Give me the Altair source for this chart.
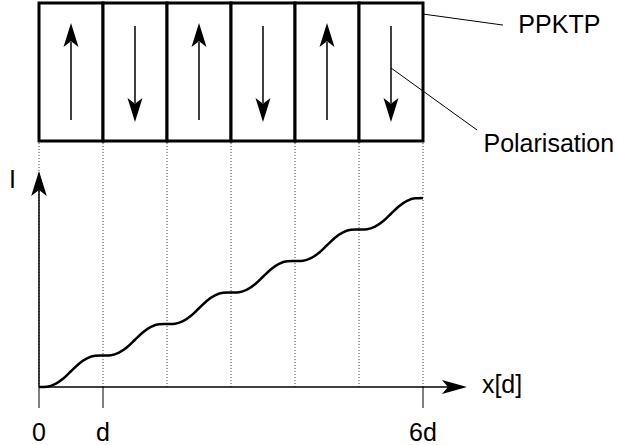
import altair as alt
import pandas as pd

# ---- layout / data (x in units of d, y in units of one intensity step) ----
X_DOMAIN = [-0.609375, 9.03125]
Y_DOMAIN = [-1.8413, 12.2857]

domain_left = [0, 1, 2, 3, 4, 5]
domain_right = [1, 2, 3, 4, 5, 6]
domain_dir = ["up", "down", "up", "down", "up", "down"]
box_top = 12.19
box_bottom = 7.81

boundaries = [0, 1, 2, 3, 4, 5, 6]

curve_x = [0.0, 0.125, 0.25, 0.375, 0.5, 0.625, 0.75, 0.875,
           1.0, 1.125, 1.25, 1.375, 1.5, 1.625, 1.75, 1.875,
           2.0, 2.125, 2.25, 2.375, 2.5, 2.625, 2.75, 2.875,
           3.0, 3.125, 3.25, 3.375, 3.5, 3.625, 3.75, 3.875,
           4.0, 4.125, 4.25, 4.375, 4.5, 4.625, 4.75, 4.875,
           5.0, 5.125, 5.25, 5.375, 5.5, 5.625, 5.75, 5.875, 6.0]
curve_i = [0.00, 0.01, 0.09, 0.26, 0.50, 0.74, 0.91, 0.99,
           1.00, 1.01, 1.09, 1.26, 1.50, 1.74, 1.91, 1.99,
           2.00, 2.01, 2.09, 2.26, 2.50, 2.74, 2.91, 2.99,
           3.00, 3.01, 3.09, 3.26, 3.50, 3.74, 3.91, 3.99,
           4.00, 4.01, 4.09, 4.26, 4.50, 4.74, 4.91, 4.99,
           5.00, 5.01, 5.09, 5.26, 5.50, 5.74, 5.91, 5.99, 6.00]

tick_pos = [0, 1, 6]
tick_lab = ["0", "d", "6d"]

FONT = "Liberation Sans"
FS = 25

xs = alt.Scale(domain=X_DOMAIN, nice=False, zero=False)
ys = alt.Scale(domain=Y_DOMAIN, nice=False, zero=False)


def X(f):
    return alt.X(f, type="quantitative", scale=xs, axis=None)


def Y(f):
    return alt.Y(f, type="quantitative", scale=ys, axis=None)


UP = "M0,-1L0.625,1L0,0.52L-0.625,1Z"
DOWN = "M0,1L0.625,-1L0,-0.52L-0.625,-1Z"
RIGHT = "M1,0L-1,0.56L-0.52,0L-1,-0.56Z"

# dotted guides
dots = alt.Chart(pd.DataFrame({"x": boundaries, "y": [0] * 7, "y2": [box_bottom] * 7})).mark_rule(
    color="#444", strokeWidth=1, strokeDash=[1, 2]
).encode(x=X("x"), y=Y("y"), y2="y2")

# boxes
boxes = alt.Chart(pd.DataFrame({"x": domain_left, "x2": domain_right,
                                "y": [box_bottom] * 6, "y2": [box_top] * 6})).mark_rect(
    fill="white", stroke="black", strokeWidth=3
).encode(x=X("x"), x2="x2", y=Y("y"), y2="y2")

centers = [l + 0.5 for l in domain_left]
up_c = [c for c, d in zip(centers, domain_dir) if d == "up"]
dn_c = [c for c, d in zip(centers, domain_dir) if d == "down"]

up_stems = alt.Chart(pd.DataFrame({"x": up_c, "y": [8.476] * 3, "y2": [10.95] * 3})).mark_rule(
    color="black", strokeWidth=1.5).encode(x=X("x"), y=Y("y"), y2="y2")
dn_stems = alt.Chart(pd.DataFrame({"x": dn_c, "y": [11.46] * 3, "y2": [9.0] * 3})).mark_rule(
    color="black", strokeWidth=1.5).encode(x=X("x"), y=Y("y"), y2="y2")
up_heads = alt.Chart(pd.DataFrame({"x": up_c, "y": [11.175] * 3})).mark_point(
    shape=UP, size=576, filled=True, color="black", opacity=1, strokeWidth=0
).encode(x=X("x"), y=Y("y"))
dn_heads = alt.Chart(pd.DataFrame({"x": dn_c, "y": [8.794] * 3})).mark_point(
    shape=DOWN, size=576, filled=True, color="black", opacity=1, strokeWidth=0
).encode(x=X("x"), y=Y("y"))

# axes
y_axis = alt.Chart(pd.DataFrame({"x": [0], "y": [0], "y2": [6.3]})).mark_rule(
    color="black", strokeWidth=1.5).encode(x=X("x"), y=Y("y"), y2="y2")
y_head = alt.Chart(pd.DataFrame({"x": [0], "y": [6.46]})).mark_point(
    shape=UP, size=625, filled=True, color="black", opacity=1, strokeWidth=0
).encode(x=X("x"), y=Y("y"))
x_axis = alt.Chart(pd.DataFrame({"x": [0], "x2": [6.4], "y": [0]})).mark_rule(
    color="black", strokeWidth=1.5).encode(x=X("x"), x2="x2", y=Y("y"))
x_head = alt.Chart(pd.DataFrame({"x": [6.492], "y": [0]})).mark_point(
    shape=RIGHT, size=625, filled=True, color="black", opacity=1, strokeWidth=0
).encode(x=X("x"), y=Y("y"))

ticks = alt.Chart(pd.DataFrame({"x": tick_pos, "y": [0] * 3, "y2": [-0.667] * 3})).mark_rule(
    color="black", strokeWidth=1).encode(x=X("x"), y=Y("y"), y2="y2")
tick_text = alt.Chart(pd.DataFrame({"x": tick_pos, "y": [-1.714] * 3, "t": tick_lab})).mark_text(
    font=FONT, fontSize=FS, align="center", baseline="alphabetic", color="black"
).encode(x=X("x"), y=Y("y"), text="t:N")

# curve
curve = alt.Chart(pd.DataFrame({"x": curve_x, "y": curve_i})).mark_line(
    color="black", strokeWidth=2.5, interpolate="monotone"
).encode(x=X("x"), y=Y("y"))

# leader lines
leaders = alt.Chart(pd.DataFrame({"x": [6.0, 5.5], "x2": [7.25, 6.844],
                                  "y": [11.84, 10.127], "y2": [11.49, 8.159]})).mark_rule(
    color="black", strokeWidth=1).encode(x=X("x"), x2="x2", y=Y("y"), y2="y2")

labels = alt.Chart(pd.DataFrame({
    "x": [7.49, 6.945, 6.92, -0.47],
    "y": [11.238, 7.46, -0.19, 6.317],
    "t": ["PPKTP", "Polarisation", "x[d]", "I"],
})).mark_text(font=FONT, fontSize=FS, align="left", baseline="alphabetic", color="black").encode(
    x=X("x"), y=Y("y"), text="t:N")

chart = alt.layer(
    dots, boxes, up_stems, dn_stems, up_heads, dn_heads,
    y_axis, y_head, x_axis, x_head, ticks, tick_text, curve, leaders, labels
).properties(
    width=617, height=445, padding=0, autosize=alt.AutoSizeParams(type="none"),
    background="white"
).configure_view(stroke=None)

chart.save("out.html", embed_options={"renderer": "svg", "actions": False})
